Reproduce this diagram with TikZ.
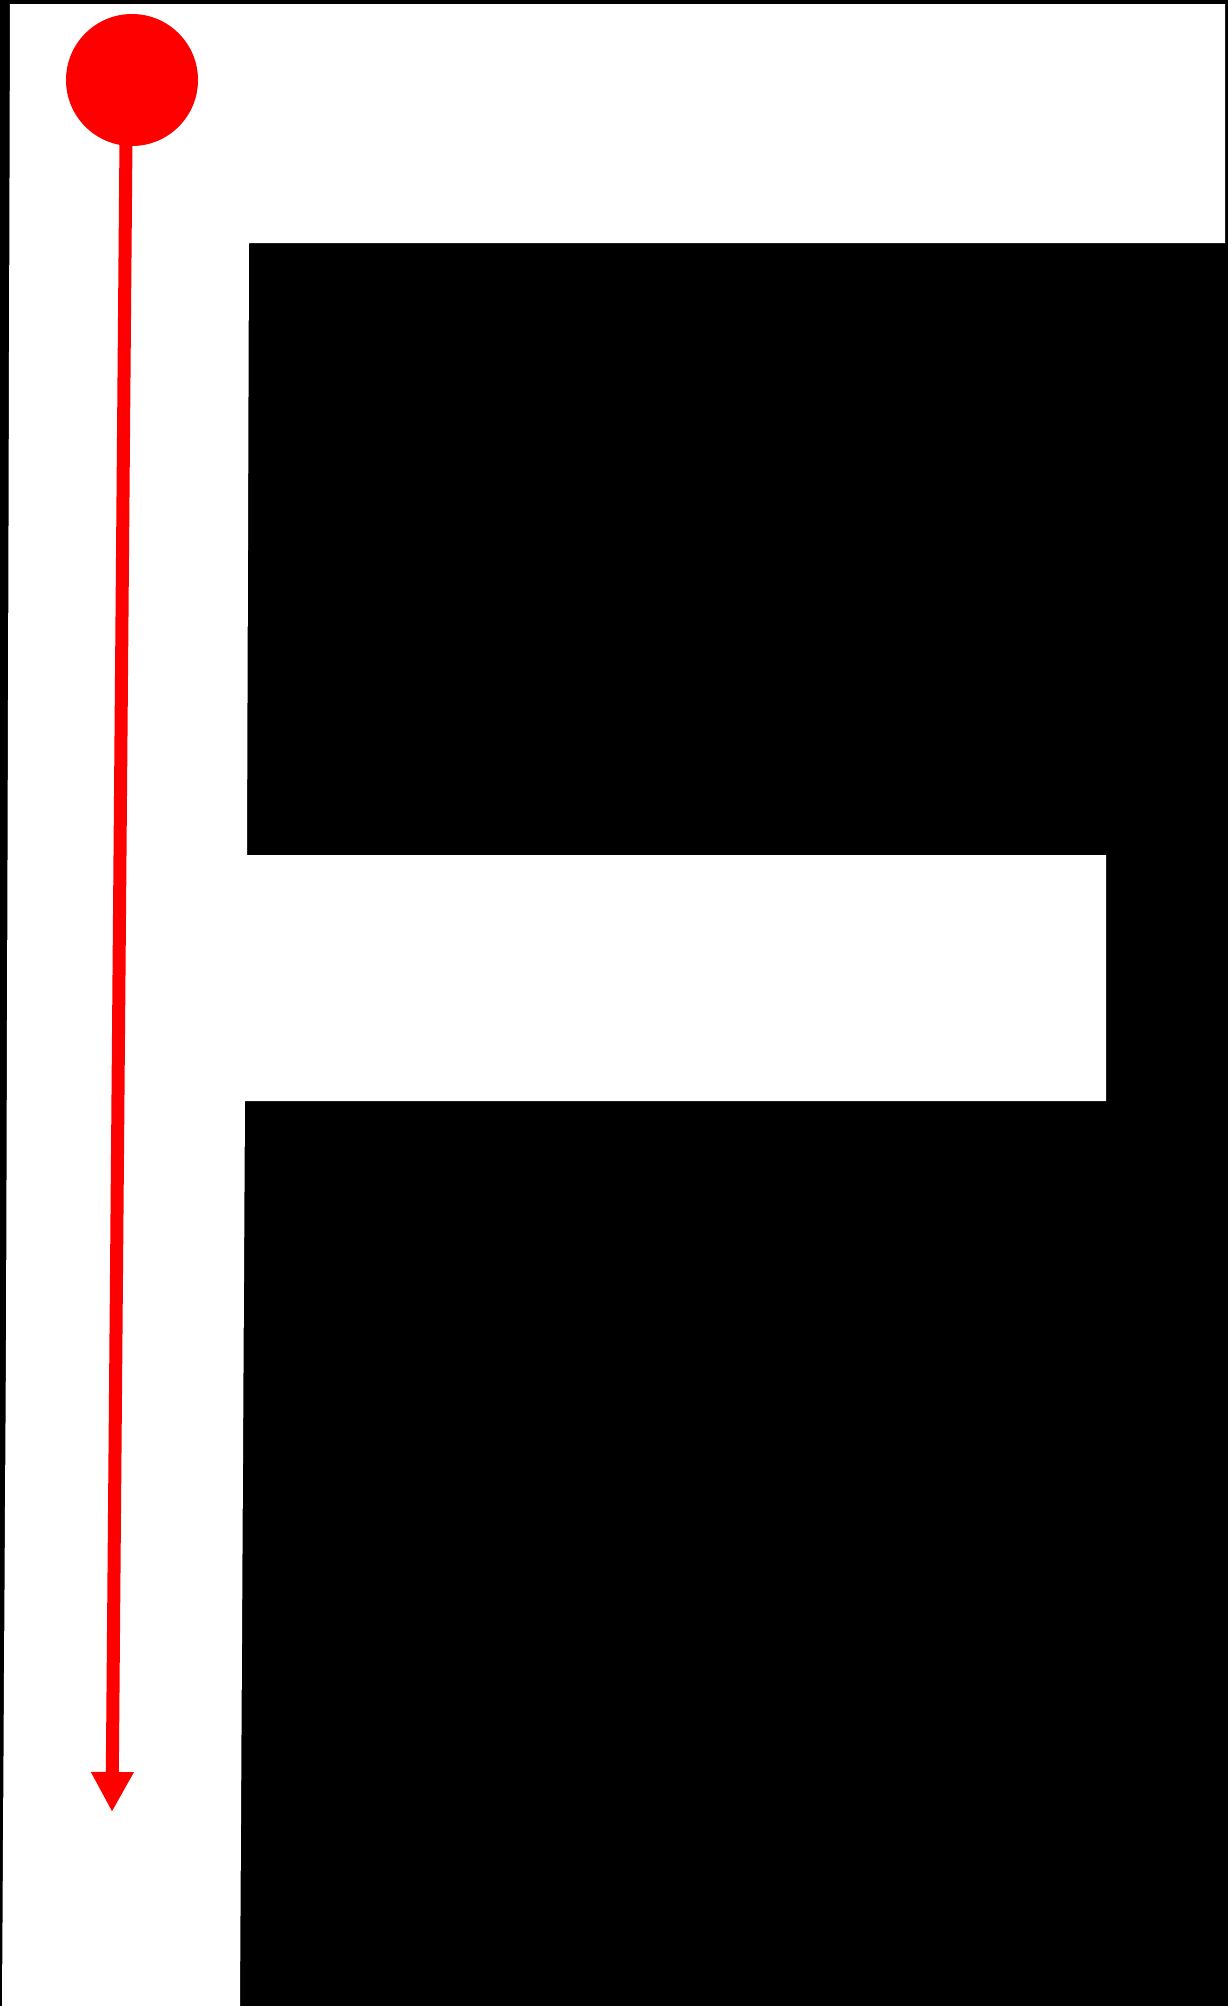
\documentclass[tikz,border=0pt]{standalone}
\usepackage{xcolor}
\usepackage{tikz}
\usetikzlibrary{arrows.meta, positioning}

\begin{document}
\begin{tikzpicture}[
    x=1pt, y=-1pt,
    letter/.style={fill=white, draw=none},
    dot/.style={circle, fill=red, draw=none, minimum size=132pt, inner sep=0pt},
    arrow/.style={draw=red, line width=13pt, -{Triangle[length=40pt,width=40pt]}}
]

% Background
\fill [black] (0,0) rectangle (1228,2006);
\useasboundingbox (0,0) rectangle (1228,2006);

% Letter
\fill [letter] (10,4) -- (1225,4) -- (1225,243) -- (249,243) -- (247,855)
    -- (1106,855) -- (1106,1101) -- (245,1101) -- (240,2006) -- (2,2006)
    -- (6,1340) -- (8,700) -- cycle;

% Nodes
\node (start) [dot] at (132,80) {};
\coordinate (finish) at (112,1812);

% Connections
\draw [arrow] ([xshift=-6pt, yshift=8pt]start.south) -- (finish);

\end{tikzpicture}
\end{document}
